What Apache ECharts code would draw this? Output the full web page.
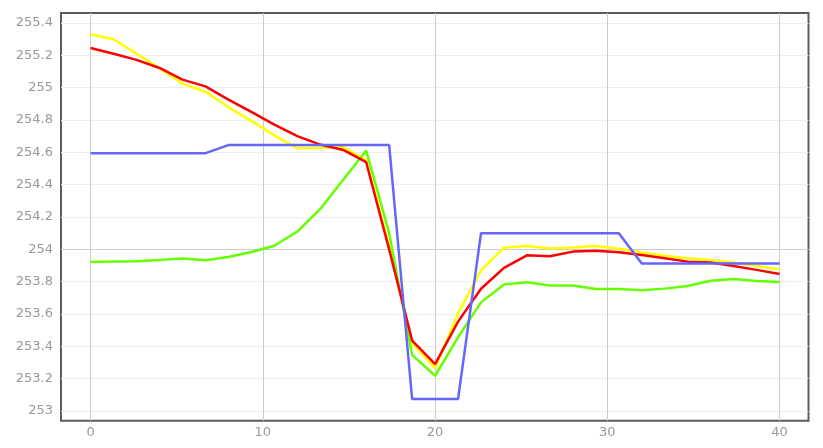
<!DOCTYPE html>
<html>
<head>
<meta charset="utf-8">
<script src="https://cdn.jsdelivr.net/npm/echarts@6/dist/echarts.min.js"></script>
<style>
html,body{margin:0;padding:0;background:#fff;}
#chart{width:823px;height:448px;}
</style>
</head>
<body>
<div id="chart"></div>
<script>
var xValues = [0, 1.333, 2.667, 4, 5.333, 6.667, 8, 9.333, 10.667, 12, 13.333, 14.667, 16, 17.333, 18.667, 20, 21.333, 22.667, 24, 25.333, 26.667, 28, 29.333, 30.667, 32, 33.333, 34.667, 36, 37.333, 38.667, 40];
var yellowValues = [255.33, 255.30, 255.21, 255.12, 255.025, 254.975, 254.88, 254.795, 254.705, 254.625, 254.628, 254.632, 254.55, 254.02, 253.42, 253.265, 253.605, 253.87, 254.01, 254.02, 254.005, 254.012, 254.02, 254.003, 253.98, 253.96, 253.945, 253.934, 253.918, 253.897, 253.877];
var redValues = [255.245, 255.21, 255.172, 255.122, 255.05, 255.008, 254.926, 254.85, 254.772, 254.70, 254.648, 254.615, 254.539, 254.0, 253.435, 253.29, 253.553, 253.756, 253.885, 253.963, 253.957, 253.986, 253.992, 253.982, 253.965, 253.945, 253.924, 253.918, 253.897, 253.873, 253.848];
var greenValues = [253.922, 253.925, 253.926, 253.934, 253.943, 253.932, 253.953, 253.984, 254.022, 254.11, 254.25, 254.43, 254.611, 254.10, 253.347, 253.218, 253.456, 253.672, 253.782, 253.797, 253.776, 253.777, 253.755, 253.755, 253.747, 253.757, 253.773, 253.806, 253.817, 253.804, 253.798];
var blueValues = [254.595, 254.595, 254.595, 254.595, 254.595, 254.595, 254.645, 254.645, 254.645, 254.645, 254.645, 254.645, 254.645, 254.645, 253.074, 253.074, 253.074, 254.10, 254.10, 254.10, 254.10, 254.10, 254.10, 254.10, 253.912, 253.912, 253.912, 253.912, 253.912, 253.912, 253.912];
var xTicks = [0, 10, 20, 30, 40];
var yTicks = [253, 253.2, 253.4, 253.6, 253.8, 254, 254.2, 254.4, 254.6, 254.8, 255, 255.2, 255.4];
var yRefLine = 254;

function pairs(vals) {
  return vals.map(function (v, i) { return [xValues[i], v]; });
}

var chart = echarts.init(document.getElementById('chart'), null, {renderer: 'canvas'});
var labelFont = {color: '#999999', fontFamily: 'DejaVu Sans', fontSize: 13};

function mkSeries(vals, color, z) {
  return {
    type: 'line',
    data: pairs(vals),
    symbol: 'none',
    smooth: false,
    z: z,
    animation: false,
    lineStyle: {color: color, width: 2.5}
  };
}

var series = [
  mkSeries(yellowValues, '#ffff00', 3),
  mkSeries(greenValues, '#66ff00', 4),
  mkSeries(redValues, '#ff0000', 5),
  mkSeries(blueValues, '#6666ff', 6)
];
series[0].markLine = {
  silent: true,
  symbol: 'none',
  z: 1,
  animation: false,
  label: {show: false},
  lineStyle: {color: '#cccccc', width: 1, type: 'solid'},
  data: [{yAxis: yRefLine}]
};

chart.setOption({
  animation: false,
  backgroundColor: '#ffffff',
  grid: {
    left: 61, top: 13, width: 747.5, height: 407.7,
    show: true, borderColor: '#5c5c5c', borderWidth: 2, backgroundColor: 'transparent',
    containLabel: false
  },
  xAxis: {
    type: 'value',
    min: -1.72, max: 41.68,
    axisLine: {show: false},
    axisTick: {show: false, customValues: xTicks},
    axisLabel: Object.assign({customValues: xTicks, margin: 5}, labelFont),
    splitLine: {show: true, lineStyle: {color: '#cccccc', width: 1}}
  },
  yAxis: {
    type: 'value',
    min: 252.94, max: 255.462,
    axisLine: {show: false},
    axisTick: {show: false, customValues: yTicks},
    axisLabel: Object.assign({customValues: yTicks, margin: 8, formatter: function (v) { return String(Math.round(v * 10) / 10); }}, labelFont),
    splitLine: {show: true, lineStyle: {color: '#eeeeee', width: 1}}
  },
  series: series
});
</script>
</body>
</html>
